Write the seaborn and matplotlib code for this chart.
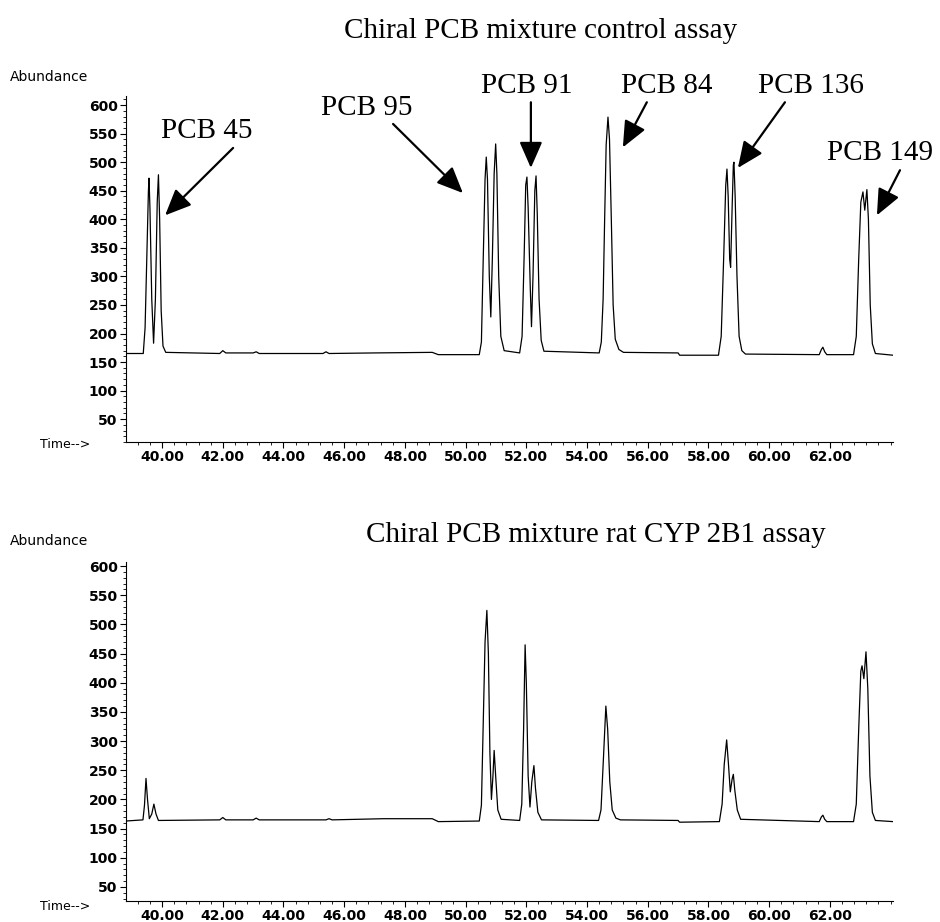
import seaborn as sns
import matplotlib.pyplot as plt
from matplotlib.ticker import MultipleLocator
import pandas as pd

# chromatogram control assay (time in min, abundance)
tiempoControl = [38.80, 39.38, 39.44, 39.50, 39.55, 39.57, 39.60, 39.66, 39.72, 39.78, 39.84, 39.88, 39.92, 39.97, 40.03, 40.12,
                 41.90, 42.00, 42.10, 43.00, 43.10, 43.20, 45.30, 45.40, 45.50, 47.00, 48.90, 49.10,
                 50.45, 50.52, 50.58, 50.64, 50.68, 50.72, 50.78, 50.83, 50.88, 50.94, 50.99, 51.03, 51.09, 51.16, 51.27,
                 51.78, 51.86, 51.93, 51.98, 52.02, 52.06, 52.13, 52.17, 52.22, 52.28, 52.32, 52.36, 52.42, 52.49, 52.58,
                 54.40, 54.47, 54.53, 54.58, 54.63, 54.69, 54.74, 54.80, 54.86, 54.93, 55.05, 55.20,
                 57.00, 57.05, 58.33, 58.42, 58.50, 58.57, 58.61, 58.65, 58.70, 58.73, 58.78, 58.82, 58.84, 58.88, 58.94, 59.01, 59.10, 59.22,
                 61.65, 61.72, 61.77, 61.83, 61.90,
                 62.78, 62.87, 62.95, 63.02, 63.09, 63.15, 63.22, 63.27, 63.33, 63.40, 63.50, 64.08]
abundanciaControl = [165, 165, 210, 340, 450, 472, 420, 260, 183, 260, 430, 478, 400, 240, 178, 167,
                     165, 170, 166, 166, 168, 165, 165, 168, 165, 166, 167, 163,
                     163, 185, 330, 470, 509, 470, 300, 229, 330, 480, 532, 480, 300, 195, 170,
                     166, 195, 340, 460, 474, 420, 280, 212, 300, 450, 476, 410, 260, 188, 169,
                     166, 185, 260, 400, 530, 579, 540, 400, 250, 190, 172, 167,
                     166, 162, 162, 195, 330, 460, 488, 440, 330, 316, 420, 495, 500, 440, 300, 195, 170, 164,
                     163, 172, 176, 168, 163,
                     163, 195, 330, 430, 448, 416, 452, 400, 250, 182, 165, 162]

# chromatogram rat CYP 2B1 assay
tiempoCYP = [38.80, 39.37, 39.42, 39.47, 39.52, 39.58, 39.66, 39.73, 39.80, 39.88,
             41.90, 42.00, 42.10, 43.00, 43.10, 43.20, 45.40, 45.50, 45.60, 47.30, 48.90, 49.10,
             50.45, 50.52, 50.58, 50.64, 50.70, 50.75, 50.80, 50.85, 50.90, 50.94, 50.99, 51.06, 51.17,
             51.78, 51.85, 51.91, 51.96, 52.00, 52.06, 52.12, 52.18, 52.25, 52.30, 52.38, 52.50,
             54.38, 54.46, 54.54, 54.62, 54.68, 54.75, 54.83, 54.95, 55.10,
             57.00, 57.05, 58.36, 58.45, 58.52, 58.60, 58.66, 58.72, 58.78, 58.82, 58.87, 58.95, 59.06,
             61.65, 61.72, 61.77, 61.83, 61.90,
             62.78, 62.87, 62.95, 63.02, 63.06, 63.12, 63.19, 63.25, 63.32, 63.40, 63.50, 64.08]
abundanciaCYP = [163, 165, 190, 236, 200, 167, 175, 192, 175, 164,
                 165, 169, 165, 165, 168, 165, 165, 167, 165, 167, 167, 162,
                 163, 190, 330, 470, 524, 450, 280, 200, 240, 284, 240, 182, 166,
                 164, 192, 320, 465, 400, 240, 187, 230, 258, 220, 178, 165,
                 164, 182, 270, 360, 320, 230, 182, 168, 165,
                 164, 161, 162, 192, 260, 302, 260, 213, 235, 243, 215, 182, 166,
                 162, 170, 173, 166, 162,
                 162, 192, 320, 420, 429, 407, 453, 390, 240, 178, 164, 162]

# etiquetas de picos: texto, posicion texto, punta flecha, cola flecha
etiquetas = ['PCB 45', 'PCB 95', 'PCB 91', 'PCB 84', 'PCB 136', 'PCB 149']
posTexto = [(41.48, 554), (46.75, 595), (52.02, 633), (56.63, 633), (61.38, 633), (63.65, 516)]
puntaFlecha = [(40.10, 407), (49.91, 446), (52.15, 490), (55.18, 526), (58.97, 490), (63.55, 407)]
colaFlecha = [(42.34, 525), (47.61, 567), (52.15, 605), (55.97, 605), (60.52, 605), (64.31, 486)]

dfControl = pd.DataFrame({'tiempo': tiempoControl, 'abundancia': abundanciaControl})
dfCYP = pd.DataFrame({'tiempo': tiempoCYP, 'abundancia': abundanciaCYP})

sns.set_style('ticks')
plt.rcParams['xtick.direction'] = 'out'
plt.rcParams['ytick.direction'] = 'out'
plt.rcParams['text.color'] = 'black'
plt.rcParams['xtick.color'] = 'black'
plt.rcParams['ytick.color'] = 'black'
plt.rcParams['axes.edgecolor'] = 'black'

fig = plt.figure(figsize=(9.4, 9.22), dpi=100)
ax1 = fig.add_axes([0.134, 0.5206, 0.816, 0.3753])
ax2 = fig.add_axes([0.134, 0.0228, 0.816, 0.3677])

tickFont = dict(family='DejaVu Sans', size=10, weight='bold')
serif = ['Liberation Serif', 'DejaVu Serif']

for ax, df, ylim in [(ax1, dfControl, (10, 616)), (ax2, dfCYP, (26, 607))]:
    sns.lineplot(x='tiempo', y='abundancia', data=df, ax=ax, color='black', linewidth=0.9,
                 estimator=None, sort=False)
    ax.set_xlim(38.81, 64.08)
    ax.set_ylim(*ylim)
    ax.xaxis.set_minor_locator(MultipleLocator(0.4))
    ax.yaxis.set_minor_locator(MultipleLocator(10))
    ax.set_xticks([40, 42, 44, 46, 48, 50, 52, 54, 56, 58, 60, 62])
    ax.set_xticklabels(['%.2f' % t for t in range(40, 64, 2)], fontdict=tickFont)
    ax.set_yticks(range(50, 601, 50))
    ax.set_yticklabels([str(v) for v in range(50, 601, 50)], fontdict=tickFont)
    ax.tick_params(axis='both', which='major', length=4, width=0.8, pad=2)
    ax.tick_params(axis='both', which='minor', length=2.5, width=0.6)
    ax.set_xlabel('')
    ax.set_ylabel('')
    sns.despine(ax=ax)
    for s in ['left', 'bottom']:
        ax.spines[s].set_linewidth(0.8)

fig.text(10 / 940, 1 - 77 / 922, 'Abundance', fontsize=10, family='DejaVu Sans', va='center', ha='left')
fig.text(10 / 940, 1 - 541 / 922, 'Abundance', fontsize=10, family='DejaVu Sans', va='center', ha='left')
fig.text(40 / 940, 1 - 444 / 922, 'Time-->', fontsize=9, family='DejaVu Sans', va='center', ha='left')
fig.text(40 / 940, 1 - 906 / 922, 'Time-->', fontsize=9, family='DejaVu Sans', va='center', ha='left')

fig.text(541 / 940, 1 - 38 / 922, 'Chiral PCB mixture control assay', fontsize=21, family=serif,
         ha='center', va='baseline')
fig.text(596 / 940, 1 - 542 / 922, 'Chiral PCB mixture rat CYP 2B1 assay', fontsize=21, family=serif,
         ha='center', va='baseline')

for etiqueta, pt, punta, cola in zip(etiquetas, posTexto, puntaFlecha, colaFlecha):
    ax1.text(pt[0], pt[1], etiqueta, fontsize=21, family=serif, ha='center', va='center', clip_on=False)
    ax1.annotate('', xy=punta, xytext=cola, annotation_clip=False,
                 arrowprops=dict(arrowstyle='-|>,head_length=0.8,head_width=0.35', color='black',
                                 lw=1.6, mutation_scale=20, shrinkA=0, shrinkB=0))

plt.savefig('out.png', dpi=100)
